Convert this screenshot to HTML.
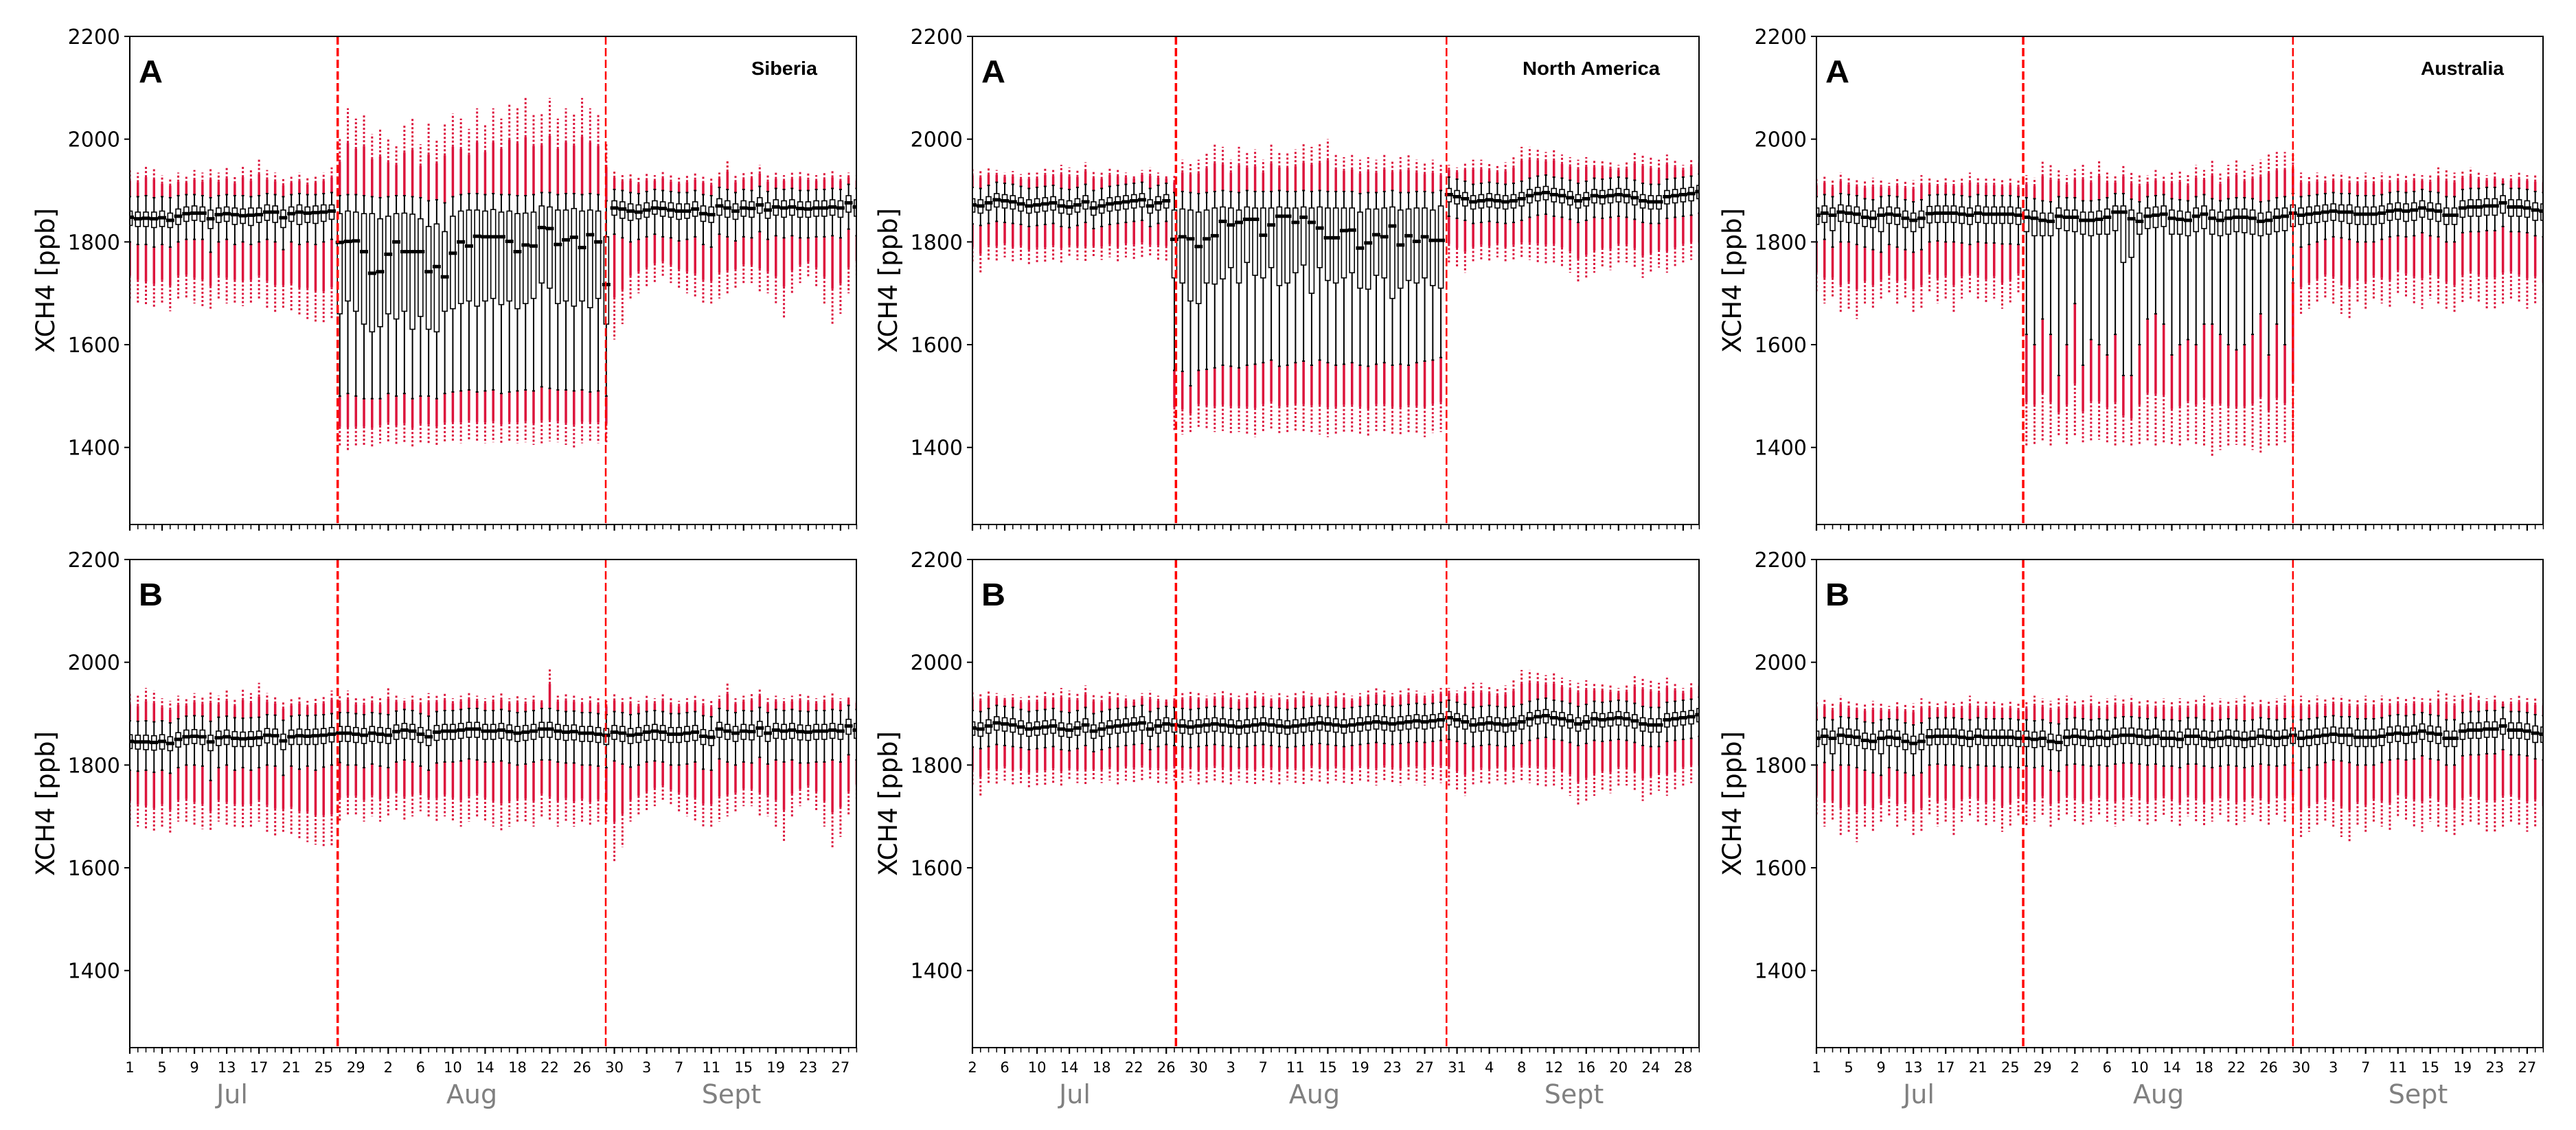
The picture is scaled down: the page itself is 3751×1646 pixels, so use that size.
<!DOCTYPE html>
<html><head><meta charset="utf-8"><style>
html,body{margin:0;padding:0;background:#fff;}
svg{display:block;}
</style></head><body>
<svg id="chart" width="3751" height="1646" viewBox="0 0 3751 1646" xmlns="http://www.w3.org/2000/svg"></svg>
<script>
// ---------- data (ppb) ----------
const yTicks=[1400,1600,1800,2000,2200];
const panelTitles=["Siberia","North America","Australia"];
const rowLetters=["A","B"];
const dashDays=[[25.74,58.93],[25.2,58.7],[25.6,59.0]];
const labelsJul1=[["1",0],["5",4],["9",8],["13",12],["17",16],["21",20],["25",24],["29",28],["2",32],["6",36],["10",40],["14",44],["18",48],["22",52],["26",56],["30",60],["3",64],["7",68],["11",72],["15",76],["19",80],["23",84],["27",88]];
const labelsJul2=[["2",0],["6",4],["10",8],["14",12],["18",16],["22",20],["26",24],["30",28],["3",32],["7",36],["11",40],["15",44],["19",48],["23",52],["27",56],["31",60],["4",64],["8",68],["12",72],["16",76],["20",80],["24",84],["28",88]];
const months=["Jul","Aug","Sept"];

// Siberia A
const p1_med=[1848,1845,1846,1845,1847,1842,1850,1855,1856,1856,1845,1853,1855,1853,1851,1852,1853,1858,1858,1847,1855,1858,1856,1857,1858,1860,
1799,1801,1802,1781,1739,1742,1776,1800,1781,1781,1781,1742,1752,1732,1778,1800,1792,1811,1810,1810,1810,1801,1781,1794,1792,1828,1826,1795,1804,1809,1789,1814,1800,1717,
1866,1864,1860,1858,1862,1866,1865,1862,1860,1860,1864,1855,1853,1870,1866,1860,1866,1865,1872,1862,1868,1866,1868,1865,1864,1866,1866,1868,1866,1876,1868];
const p1_q1=[1832,1830,1830,1828,1830,1828,1834,1840,1842,1840,1826,1838,1840,1834,1836,1832,1838,1842,1838,1828,1840,1834,1838,1836,1840,1844,
1660,1685,1665,1640,1625,1635,1660,1650,1665,1630,1655,1630,1625,1665,1670,1680,1685,1675,1685,1690,1678,1685,1670,1680,1690,1720,1710,1680,1685,1675,1685,1672,1690,1640,
1852,1846,1842,1845,1848,1854,1850,1848,1844,1846,1850,1840,1838,1852,1848,1844,1850,1848,1856,1846,1852,1848,1852,1848,1848,1850,1850,1852,1848,1858,1850];
const p1_q3=[1860,1858,1858,1858,1860,1856,1864,1868,1870,1868,1862,1866,1868,1866,1864,1866,1866,1872,1870,1862,1868,1872,1868,1870,1872,1872,
1855,1860,1858,1855,1855,1845,1850,1855,1856,1854,1845,1830,1835,1820,1850,1860,1862,1862,1860,1863,1858,1860,1855,1856,1858,1870,1868,1862,1862,1865,1860,1862,1860,1810,
1880,1878,1874,1872,1876,1880,1878,1876,1874,1874,1878,1870,1868,1884,1880,1874,1880,1878,1886,1876,1882,1880,1882,1878,1878,1880,1880,1882,1880,1890,1882];
const p1_whi=[1888,1888,1890,1886,1888,1886,1890,1892,1892,1890,1886,1890,1892,1890,1890,1888,1890,1894,1892,1888,1892,1894,1892,1892,1894,1896,
1890,1892,1892,1890,1888,1886,1888,1890,1890,1888,1886,1880,1882,1876,1888,1892,1894,1894,1892,1894,1892,1892,1890,1890,1892,1896,1896,1892,1894,1894,1892,1894,1892,1880,
1902,1900,1896,1894,1898,1902,1900,1898,1896,1896,1900,1892,1890,1906,1902,1896,1902,1900,1908,1898,1904,1902,1904,1900,1900,1902,1902,1904,1902,1912,1904];
const p1_wlo=[1800,1795,1795,1790,1795,1790,1800,1805,1805,1805,1780,1800,1805,1795,1800,1795,1800,1805,1800,1785,1800,1795,1800,1795,1800,1805,
1500,1505,1500,1495,1495,1495,1505,1500,1505,1495,1500,1500,1495,1505,1508,1510,1512,1508,1510,1512,1505,1508,1510,1512,1510,1518,1515,1512,1512,1510,1512,1508,1510,1500,
1815,1808,1800,1805,1810,1815,1810,1808,1802,1805,1810,1795,1790,1815,1810,1802,1810,1808,1820,1805,1812,1808,1812,1808,1808,1810,1810,1812,1808,1825,1812];
const p1_rhi=[1940,1935,1950,1945,1930,1925,1935,1930,1940,1935,1945,1935,1945,1930,1950,1940,1960,1940,1935,1925,1930,1935,1925,1930,1935,1945,
2000,2060,2040,2050,2010,2020,2000,1990,2030,2040,1990,2030,2000,2030,2050,2040,2020,2060,2030,2060,2040,2070,2060,2080,2050,2050,2080,2040,2060,2050,2080,2060,2050,1990,
1940,1930,1935,1925,1935,1930,1940,1930,1925,1930,1935,1930,1925,1935,1960,1930,1935,1940,1950,1930,1935,1930,1935,1940,1935,1930,1935,1940,1930,1935,1930];
const p1_rlo=[1690,1680,1675,1670,1680,1665,1690,1690,1680,1675,1670,1690,1680,1680,1675,1680,1690,1670,1660,1670,1665,1655,1650,1645,1640,1650,
1400,1395,1400,1405,1400,1408,1410,1405,1408,1400,1410,1408,1405,1410,1410,1408,1412,1410,1408,1410,1405,1410,1408,1410,1405,1408,1412,1410,1405,1400,1408,1410,1408,1410,
1610,1640,1690,1700,1710,1720,1730,1720,1710,1700,1690,1680,1680,1690,1700,1710,1720,1720,1700,1700,1680,1650,1700,1720,1730,1710,1680,1640,1660,1700,1730];

// North America A
const p2_med=[1872,1870,1876,1882,1880,1878,1874,1870,1872,1874,1876,1870,1868,1872,1878,1866,1870,1874,1876,1878,1880,1882,1870,1876,1880,
1805,1810,1806,1791,1806,1812,1840,1833,1838,1844,1844,1813,1833,1850,1850,1838,1848,1838,1827,1808,1808,1822,1823,1788,1798,1814,1810,1831,1794,1812,1801,1810,1803,1803,
1892,1888,1884,1878,1880,1882,1880,1878,1880,1884,1890,1894,1896,1892,1890,1886,1880,1884,1890,1888,1890,1892,1890,1886,1880,1878,1878,1888,1890,1892,1894,1898];
const p2_q1=[1858,1856,1862,1868,1866,1864,1860,1856,1858,1860,1862,1856,1854,1858,1864,1852,1856,1860,1862,1864,1866,1868,1856,1862,1866,
1730,1720,1685,1680,1720,1718,1728,1750,1720,1760,1735,1730,1750,1715,1720,1740,1755,1700,1750,1725,1720,1730,1740,1710,1708,1735,1730,1690,1710,1725,1720,1730,1715,1710,
1878,1874,1870,1864,1866,1868,1866,1864,1866,1870,1876,1880,1882,1878,1876,1872,1866,1870,1876,1874,1876,1878,1876,1872,1866,1864,1864,1874,1876,1878,1880,1884];
const p2_q3=[1884,1882,1888,1894,1892,1890,1886,1882,1884,1886,1888,1882,1880,1884,1890,1878,1882,1886,1888,1890,1892,1894,1882,1888,1892,
1862,1864,1862,1858,1862,1866,1868,1866,1862,1868,1866,1866,1866,1868,1866,1866,1868,1866,1868,1866,1866,1866,1866,1858,1864,1864,1866,1868,1862,1864,1866,1866,1862,1870,
1904,1900,1896,1890,1892,1894,1892,1890,1892,1896,1902,1906,1908,1904,1902,1898,1892,1896,1902,1900,1902,1904,1902,1898,1892,1890,1890,1900,1902,1904,1906,1910];
const p2_whi=[1906,1904,1910,1916,1914,1912,1908,1904,1906,1908,1910,1904,1902,1906,1912,1900,1904,1908,1910,1912,1914,1916,1904,1910,1914,
1896,1898,1896,1894,1896,1898,1900,1898,1896,1900,1898,1898,1898,1900,1898,1898,1900,1898,1900,1898,1898,1898,1898,1894,1896,1896,1898,1900,1896,1896,1898,1898,1896,1900,
1926,1922,1918,1912,1914,1916,1914,1912,1914,1918,1924,1928,1930,1926,1924,1920,1914,1918,1924,1922,1924,1926,1924,1920,1914,1912,1912,1922,1924,1926,1928,1932];
const p2_wlo=[1835,1832,1836,1840,1838,1836,1834,1830,1832,1834,1836,1830,1828,1832,1838,1826,1830,1834,1836,1838,1840,1842,1830,1836,1840,
1550,1548,1520,1550,1552,1555,1560,1558,1555,1560,1562,1565,1570,1558,1560,1565,1568,1560,1570,1565,1560,1562,1565,1560,1558,1562,1565,1560,1562,1560,1565,1568,1570,1575,
1850,1846,1842,1836,1838,1840,1838,1836,1838,1842,1848,1852,1854,1850,1848,1844,1838,1842,1848,1846,1848,1850,1848,1844,1838,1836,1836,1846,1848,1850,1852,1856];
const p2_rhi=[1945,1940,1945,1940,1935,1938,1932,1935,1935,1945,1940,1950,1945,1940,1955,1940,1935,1945,1940,1935,1930,1940,1945,1935,1930,
1930,1960,1955,1960,1975,1990,1985,1960,1985,1975,1980,1960,1990,1975,1975,1980,1990,1985,1990,2000,1970,1965,1970,1960,1965,1960,1970,1960,1965,1970,1960,1955,1960,1950,
1950,1945,1955,1960,1960,1955,1950,1955,1965,1985,1985,1980,1975,1980,1970,1965,1960,1965,1960,1960,1955,1950,1955,1975,1970,1965,1960,1970,1960,1950,1960,1970];
const p2_rlo=[1760,1740,1765,1760,1770,1760,1765,1755,1760,1760,1765,1760,1770,1765,1760,1770,1765,1770,1760,1770,1765,1770,1770,1765,1760,
1430,1425,1430,1440,1435,1430,1432,1428,1430,1425,1420,1430,1435,1428,1430,1432,1428,1430,1425,1420,1425,1430,1428,1425,1420,1432,1430,1425,1422,1430,1425,1420,1428,1430,
1760,1750,1740,1760,1765,1760,1770,1760,1765,1770,1765,1760,1755,1760,1750,1740,1720,1730,1740,1750,1745,1760,1760,1750,1730,1740,1750,1740,1750,1760,1765,1760];

// Australia A
const p3_med=[1852,1856,1852,1858,1856,1854,1848,1846,1852,1854,1852,1846,1842,1846,1855,1856,1856,1856,1854,1852,1856,1854,1854,1854,1854,1852,
1848,1846,1842,1840,1850,1848,1848,1842,1842,1844,1848,1858,1858,1845,1840,1850,1852,1854,1846,1844,1842,1850,1854,1846,1842,1846,1848,1848,1846,1840,1842,1848,1850,1856,
1852,1854,1856,1858,1860,1858,1858,1854,1854,1854,1856,1860,1862,1860,1862,1866,1862,1860,1852,1852,1866,1868,1868,1870,1870,1876,1868,1868,1866,1862,1860];
const p3_q1=[1834,1838,1822,1840,1838,1836,1830,1828,1820,1836,1834,1828,1820,1828,1837,1838,1838,1838,1836,1834,1838,1836,1836,1836,1836,1834,
1820,1812,1812,1812,1826,1822,1820,1815,1812,1815,1815,1822,1760,1770,1815,1826,1828,1830,1815,1815,1812,1820,1826,1815,1812,1815,1820,1818,1815,1812,1815,1820,1822,1830,
1834,1836,1838,1840,1842,1840,1836,1834,1834,1834,1836,1842,1844,1840,1842,1848,1844,1840,1834,1834,1848,1850,1850,1852,1852,1856,1850,1850,1848,1842,1842];
const p3_q3=[1866,1870,1866,1872,1870,1868,1862,1860,1866,1868,1866,1860,1856,1860,1869,1870,1870,1870,1868,1866,1870,1868,1868,1868,1868,1866,
1862,1860,1856,1856,1866,1862,1862,1858,1858,1860,1864,1870,1870,1862,1856,1866,1868,1870,1862,1860,1858,1866,1870,1862,1858,1862,1864,1864,1862,1856,1858,1864,1866,1872,
1866,1868,1870,1872,1874,1872,1872,1868,1868,1868,1870,1874,1876,1874,1876,1880,1876,1874,1866,1866,1880,1882,1882,1884,1884,1890,1882,1882,1880,1876,1874];
const p3_whi=[1888,1892,1888,1894,1892,1890,1884,1882,1888,1890,1888,1882,1878,1882,1891,1892,1892,1892,1890,1888,1892,1890,1890,1890,1890,1888,
1886,1884,1880,1878,1888,1886,1886,1880,1880,1882,1886,1894,1894,1883,1878,1888,1890,1892,1884,1882,1880,1888,1892,1884,1880,1884,1886,1886,1884,1878,1880,1886,1888,1894,
1888,1890,1892,1894,1896,1894,1894,1890,1890,1890,1892,1896,1898,1896,1898,1902,1898,1896,1888,1888,1902,1904,1904,1906,1906,1912,1904,1904,1902,1898,1896];
const p3_wlo=[1800,1805,1790,1800,1800,1795,1790,1785,1780,1795,1790,1785,1780,1785,1800,1802,1800,1800,1798,1795,1800,1798,1798,1796,1796,1795,
1620,1600,1650,1620,1540,1600,1680,1560,1610,1600,1580,1620,1540,1540,1600,1650,1660,1640,1580,1600,1610,1600,1640,1640,1620,1600,1590,1600,1620,1660,1580,1640,1600,1720,
1790,1795,1800,1805,1810,1808,1805,1800,1800,1800,1805,1810,1812,1810,1812,1818,1812,1810,1800,1800,1818,1820,1820,1822,1822,1830,1820,1820,1818,1812,1810];
const p3_rhi=[1925,1930,1920,1935,1925,1920,1920,1925,1920,1915,1925,1920,1920,1930,1925,1920,1925,1920,1925,1935,1925,1925,1925,1920,1925,1920,
1930,1925,1960,1950,1940,1930,1945,1950,1940,1960,1935,1930,1950,1935,1930,1930,1940,1930,1935,1940,1930,1950,1940,1960,1935,1950,1960,1940,1950,1960,1970,1975,1975,1975,
1935,1930,1935,1930,1935,1935,1930,1930,1935,1930,1935,1930,1935,1930,1935,1930,1930,1945,1940,1935,1940,1945,1935,1930,1935,1925,1930,1935,1930,1930,1930];
const p3_rlo=[1700,1680,1690,1660,1670,1650,1680,1670,1690,1700,1680,1690,1660,1670,1700,1680,1690,1660,1690,1700,1690,1680,1690,1670,1680,1700,
1400,1405,1410,1400,1420,1405,1420,1410,1410,1415,1410,1400,1410,1400,1405,1410,1400,1410,1405,1400,1410,1405,1400,1380,1395,1400,1405,1400,1395,1390,1400,1400,1410,1400,
1660,1670,1680,1690,1680,1660,1650,1680,1670,1690,1680,1670,1700,1690,1680,1670,1690,1680,1670,1660,1680,1690,1680,1670,1670,1680,1690,1680,1670,1680,1660];

// Siberia B
const p4_med=[1846,1845,1845,1844,1846,1842,1850,1855,1856,1855,1845,1853,1855,1852,1851,1852,1853,1858,1857,1847,1855,1857,1856,1857,1858,1860,
1862,1862,1860,1858,1862,1860,1858,1865,1868,1866,1860,1855,1864,1866,1866,1868,1870,1870,1866,1866,1868,1865,1862,1864,1866,1870,1870,1866,1864,1865,1862,1862,1860,1858,
1864,1862,1858,1860,1864,1866,1864,1860,1860,1862,1864,1856,1854,1870,1866,1862,1866,1865,1872,1862,1868,1866,1868,1865,1864,1866,1866,1868,1866,1876,1868];
const p4_q1=[1832,1831,1830,1829,1831,1828,1835,1840,1842,1840,1828,1838,1840,1836,1836,1836,1838,1843,1840,1830,1840,1840,1840,1840,1842,1845,
1846,1846,1844,1842,1846,1844,1842,1850,1852,1850,1844,1838,1848,1850,1850,1852,1854,1854,1850,1850,1852,1849,1846,1848,1850,1854,1854,1850,1848,1849,1846,1846,1844,1840,
1850,1846,1842,1844,1848,1850,1848,1844,1844,1846,1848,1840,1838,1854,1850,1846,1850,1849,1856,1846,1852,1850,1852,1849,1848,1850,1850,1852,1850,1860,1852];
const p4_q3=[1859,1858,1858,1857,1859,1855,1863,1868,1869,1868,1858,1866,1868,1865,1864,1865,1866,1871,1870,1860,1868,1870,1869,1870,1871,1873,
1875,1875,1873,1871,1875,1873,1871,1878,1881,1879,1873,1868,1877,1879,1879,1881,1883,1883,1879,1879,1881,1878,1875,1877,1879,1883,1883,1879,1877,1878,1875,1875,1873,1871,
1877,1875,1871,1873,1877,1879,1877,1873,1873,1875,1877,1869,1867,1883,1879,1875,1879,1878,1885,1875,1881,1879,1881,1878,1877,1879,1879,1881,1879,1889,1881];
const p4_whi=[1886,1885,1886,1884,1886,1882,1890,1895,1896,1895,1885,1893,1895,1892,1891,1892,1893,1898,1897,1887,1895,1897,1896,1897,1898,1900,
1902,1902,1900,1898,1902,1900,1898,1905,1908,1906,1900,1895,1904,1906,1906,1908,1910,1910,1906,1906,1908,1905,1902,1904,1906,1910,1910,1906,1904,1905,1902,1902,1900,1898,
1904,1902,1898,1900,1904,1906,1904,1900,1900,1902,1904,1896,1894,1910,1906,1902,1906,1905,1912,1902,1908,1906,1908,1905,1904,1906,1906,1908,1906,1916,1908];
const p4_wlo=[1790,1788,1790,1786,1790,1784,1795,1800,1800,1798,1770,1795,1800,1790,1795,1790,1795,1800,1798,1780,1798,1792,1798,1790,1796,1800,
1805,1800,1800,1795,1802,1798,1795,1806,1810,1806,1798,1790,1804,1806,1806,1808,1812,1810,1806,1806,1808,1804,1800,1802,1806,1810,1810,1806,1804,1804,1800,1800,1798,1795,
1808,1802,1796,1800,1806,1808,1806,1800,1800,1802,1806,1792,1790,1812,1806,1800,1806,1804,1815,1802,1810,1806,1810,1804,1804,1806,1806,1810,1806,1820,1810];
const p4_rhi=[1940,1935,1950,1945,1930,1925,1935,1930,1940,1935,1945,1935,1945,1930,1950,1940,1960,1940,1935,1925,1930,1935,1925,1930,1935,1945,
1935,1945,1930,1930,1935,1930,1950,1935,1930,1935,1930,1940,1935,1940,1930,1935,1940,1935,1930,1935,1940,1930,1935,1930,1935,1930,1990,1935,1940,1935,1930,1935,1930,1925,
1940,1930,1935,1925,1935,1930,1940,1930,1925,1930,1935,1930,1925,1935,1960,1930,1935,1940,1950,1930,1935,1930,1935,1940,1935,1930,1935,1940,1930,1935,1930];
const p4_rlo=[1690,1680,1675,1670,1680,1665,1690,1690,1680,1675,1670,1690,1680,1680,1675,1680,1690,1670,1660,1670,1665,1655,1650,1645,1640,1640,
1690,1700,1700,1690,1700,1690,1700,1710,1690,1700,1710,1700,1690,1700,1690,1680,1690,1700,1690,1680,1670,1680,1690,1690,1680,1700,1690,1680,1690,1680,1690,1680,1690,1690,
1610,1640,1690,1700,1710,1720,1730,1720,1710,1700,1690,1680,1680,1690,1700,1710,1720,1720,1700,1700,1680,1650,1700,1720,1730,1710,1680,1640,1660,1700,1730];

// North America B
const p5_med=[1872,1870,1876,1882,1880,1878,1874,1870,1872,1874,1876,1870,1868,1872,1878,1866,1870,1874,1876,1878,1880,1882,1870,1876,1880,
1878,1876,1874,1876,1878,1880,1878,1876,1874,1876,1878,1880,1878,1876,1874,1876,1878,1880,1882,1880,1878,1876,1878,1880,1882,1884,1882,1880,1882,1884,1886,1884,1886,1888,
1892,1888,1884,1878,1880,1882,1880,1878,1880,1884,1890,1894,1896,1892,1890,1886,1880,1884,1890,1888,1890,1892,1890,1886,1880,1878,1878,1888,1890,1892,1894,1898];
const p5_q1=[1858,1856,1862,1868,1866,1864,1860,1856,1858,1860,1862,1856,1854,1858,1864,1852,1856,1860,1862,1864,1866,1868,1856,1862,1866,
1864,1862,1860,1862,1864,1866,1864,1862,1860,1862,1864,1866,1864,1862,1860,1862,1864,1866,1868,1866,1864,1862,1864,1866,1868,1870,1868,1866,1868,1870,1872,1870,1872,1874,
1878,1874,1870,1864,1866,1868,1866,1864,1866,1870,1876,1880,1882,1878,1876,1872,1866,1870,1876,1874,1876,1878,1876,1872,1866,1864,1864,1874,1876,1878,1880,1884];
const p5_q3=[1884,1882,1888,1894,1892,1890,1886,1882,1884,1886,1888,1882,1880,1884,1890,1878,1882,1886,1888,1890,1892,1894,1882,1888,1892,
1890,1888,1886,1888,1890,1892,1890,1888,1886,1888,1890,1892,1890,1888,1886,1888,1890,1892,1894,1892,1890,1888,1890,1892,1894,1896,1894,1892,1894,1896,1898,1896,1898,1900,
1904,1900,1896,1890,1892,1894,1892,1890,1892,1896,1902,1906,1908,1904,1902,1898,1892,1896,1902,1900,1902,1904,1902,1898,1892,1890,1890,1900,1902,1904,1906,1910];
const p5_whi=[1906,1904,1910,1916,1914,1912,1908,1904,1906,1908,1910,1904,1902,1906,1912,1900,1904,1908,1910,1912,1914,1916,1904,1910,1914,
1912,1910,1908,1910,1912,1914,1912,1910,1908,1910,1912,1914,1912,1910,1908,1910,1912,1914,1916,1914,1912,1910,1912,1914,1916,1918,1916,1914,1916,1918,1920,1918,1920,1922,
1926,1922,1918,1912,1914,1916,1914,1912,1914,1918,1924,1928,1930,1926,1924,1920,1914,1918,1924,1922,1924,1926,1924,1920,1914,1912,1912,1922,1924,1926,1928,1932];
const p5_wlo=[1835,1832,1836,1840,1838,1836,1834,1830,1832,1834,1836,1830,1828,1832,1838,1826,1830,1834,1836,1838,1840,1842,1830,1836,1840,
1838,1836,1834,1836,1838,1840,1838,1836,1834,1836,1838,1840,1838,1836,1834,1836,1838,1840,1842,1840,1838,1836,1838,1840,1842,1844,1842,1840,1842,1844,1846,1844,1846,1848,
1850,1846,1842,1836,1838,1840,1838,1836,1838,1842,1848,1852,1854,1850,1848,1844,1838,1842,1848,1846,1848,1850,1848,1844,1838,1836,1836,1846,1848,1850,1852,1856];
const p5_rhi=[1945,1940,1945,1940,1935,1938,1932,1935,1935,1945,1940,1950,1945,1940,1955,1940,1935,1945,1940,1935,1930,1940,1945,1935,1930,
1935,1940,1945,1940,1935,1940,1945,1940,1935,1940,1945,1940,1935,1940,1935,1940,1945,1940,1935,1940,1945,1940,1935,1940,1945,1950,1945,1940,1945,1950,1945,1940,1945,1950,
1950,1945,1955,1960,1960,1955,1950,1955,1965,1985,1985,1980,1975,1980,1970,1965,1960,1965,1960,1960,1955,1950,1955,1975,1970,1965,1960,1970,1960,1950,1960,1970];
const p5_rlo=[1760,1740,1765,1760,1770,1760,1765,1755,1760,1760,1765,1760,1770,1765,1760,1770,1765,1770,1760,1770,1765,1770,1770,1765,1760,
1770,1765,1770,1760,1765,1770,1765,1760,1770,1765,1760,1770,1765,1760,1770,1765,1760,1770,1765,1760,1770,1765,1760,1770,1765,1760,1770,1765,1760,1770,1765,1760,1770,1765,
1760,1750,1740,1760,1765,1760,1770,1760,1765,1770,1765,1760,1755,1760,1750,1740,1720,1730,1740,1750,1745,1760,1760,1750,1730,1740,1750,1740,1750,1760,1765,1760];

// Australia B
const p6_med=[1852,1856,1852,1858,1856,1854,1848,1846,1852,1854,1852,1846,1842,1846,1855,1856,1856,1856,1854,1852,1856,1854,1854,1854,1854,1852,
1852,1850,1852,1846,1844,1854,1856,1854,1852,1854,1852,1856,1858,1858,1856,1854,1856,1852,1852,1850,1856,1856,1852,1850,1852,1854,1852,1850,1852,1856,1854,1852,1854,1858,
1852,1854,1856,1858,1860,1858,1858,1854,1854,1854,1856,1860,1862,1860,1862,1866,1862,1860,1852,1852,1866,1868,1868,1870,1870,1876,1868,1868,1866,1862,1860];
const p6_q1=[1836,1840,1822,1842,1840,1838,1832,1830,1822,1838,1836,1830,1822,1830,1839,1840,1840,1840,1838,1836,1840,1838,1838,1838,1838,1836,
1836,1834,1836,1830,1828,1838,1840,1838,1836,1838,1836,1840,1842,1842,1840,1838,1840,1836,1836,1834,1840,1840,1836,1834,1836,1838,1836,1834,1836,1840,1838,1836,1838,1842,
1836,1838,1840,1842,1844,1842,1838,1836,1836,1836,1838,1844,1846,1842,1844,1850,1846,1842,1836,1836,1850,1852,1852,1854,1854,1860,1852,1852,1850,1844,1844];
const p6_q3=[1866,1870,1866,1872,1870,1868,1862,1860,1866,1868,1866,1860,1856,1860,1869,1870,1870,1870,1868,1866,1870,1868,1868,1868,1868,1866,
1866,1864,1866,1860,1858,1868,1870,1868,1866,1868,1866,1870,1872,1872,1870,1868,1870,1866,1866,1864,1870,1870,1866,1864,1866,1868,1866,1864,1866,1870,1868,1866,1868,1872,
1866,1868,1870,1872,1874,1872,1872,1868,1868,1868,1870,1874,1876,1874,1876,1880,1876,1874,1866,1866,1880,1882,1882,1884,1884,1890,1882,1882,1880,1876,1874];
const p6_whi=[1888,1892,1888,1894,1892,1890,1884,1882,1888,1890,1888,1882,1878,1882,1891,1892,1892,1892,1890,1888,1892,1890,1890,1890,1890,1888,
1888,1886,1888,1882,1880,1890,1892,1890,1888,1890,1888,1892,1894,1894,1892,1890,1892,1888,1888,1886,1892,1892,1888,1886,1888,1890,1888,1886,1888,1892,1890,1888,1890,1894,
1888,1890,1892,1894,1896,1894,1894,1890,1890,1890,1892,1896,1898,1896,1898,1902,1898,1896,1888,1888,1902,1904,1904,1906,1906,1912,1904,1904,1902,1898,1896];
const p6_wlo=[1800,1805,1790,1800,1800,1795,1790,1785,1780,1795,1790,1785,1780,1785,1800,1802,1800,1800,1798,1795,1800,1798,1798,1796,1796,1795,
1798,1795,1798,1790,1788,1800,1802,1800,1798,1800,1798,1802,1804,1804,1802,1800,1802,1798,1798,1795,1802,1802,1798,1795,1798,1800,1798,1795,1798,1802,1800,1798,1800,1804,
1790,1795,1800,1805,1810,1808,1805,1800,1800,1800,1805,1810,1812,1810,1812,1818,1812,1810,1800,1800,1818,1820,1820,1822,1822,1830,1820,1820,1818,1812,1810];
const p6_rhi=[1925,1930,1920,1935,1925,1920,1920,1925,1920,1915,1925,1920,1920,1930,1925,1920,1925,1920,1925,1935,1925,1925,1925,1920,1925,1920,
1925,1935,1930,1925,1930,1935,1925,1930,1935,1925,1930,1935,1930,1935,1925,1930,1925,1930,1925,1930,1925,1930,1935,1925,1930,1925,1930,1935,1925,1930,1925,1930,1935,1930,
1935,1930,1935,1930,1935,1935,1930,1930,1935,1930,1935,1930,1935,1930,1935,1930,1930,1945,1940,1935,1940,1945,1935,1930,1935,1925,1930,1935,1930,1930,1930];
const p6_rlo=[1700,1680,1690,1660,1670,1650,1680,1670,1690,1700,1680,1690,1660,1670,1700,1680,1690,1660,1690,1700,1690,1680,1690,1670,1680,1700,
1680,1690,1700,1680,1690,1700,1690,1680,1690,1700,1690,1680,1690,1700,1690,1680,1690,1700,1690,1680,1700,1690,1680,1690,1700,1690,1680,1690,1700,1690,1680,1700,1690,1700,
1660,1670,1680,1690,1680,1660,1650,1680,1670,1690,1680,1670,1700,1690,1680,1670,1690,1680,1670,1660,1680,1690,1680,1670,1670,1680,1690,1680,1670,1680,1660];

// ---------- layout ----------
const NS="http://www.w3.org/2000/svg";
const svg=document.getElementById('chart');
const LEFTS=[189,1416,2645], TOPS=[53,815], PW=1058, PH=711;
const YMIN=1250, YMAX=2200, DAYPX=11.76;
const RED="#dc143c";
function mk(tag,attrs,parent){const e=document.createElementNS(NS,tag);for(const k in attrs)e.setAttribute(k,attrs[k]);(parent||svg).appendChild(e);return e;}

const panels=[
 {col:0,row:0,med:p1_med,q1:p1_q1,q3:p1_q3,whi:p1_whi,wlo:p1_wlo,rhi:p1_rhi,rlo:p1_rlo},
 {col:1,row:0,med:p2_med,q1:p2_q1,q3:p2_q3,whi:p2_whi,wlo:p2_wlo,rhi:p2_rhi,rlo:p2_rlo},
 {col:2,row:0,med:p3_med,q1:p3_q1,q3:p3_q3,whi:p3_whi,wlo:p3_wlo,rhi:p3_rhi,rlo:p3_rlo},
 {col:0,row:1,med:p4_med,q1:p4_q1,q3:p4_q3,whi:p4_whi,wlo:p4_wlo,rhi:p4_rhi,rlo:p4_rlo},
 {col:1,row:1,med:p5_med,q1:p5_q1,q3:p5_q3,whi:p5_whi,wlo:p5_wlo,rhi:p5_rhi,rlo:p5_rlo},
 {col:2,row:1,med:p6_med,q1:p6_q1,q3:p6_q3,whi:p6_whi,wlo:p6_wlo,rhi:p6_rhi,rlo:p6_rlo}
];

function redColumn(x,yStart,yEnd,parent){
  // dense near whisker, dotted further out
  const yMid=yStart+(yEnd-yStart)*0.6;
  mk('line',{x1:x,x2:x,y1:yStart,y2:yMid,stroke:RED,'stroke-width':3.5},parent);
  mk('line',{x1:x,x2:x,y1:yMid,y2:yEnd,stroke:RED,'stroke-width':3,'stroke-dasharray':'3,3'},parent);
}

panels.forEach((p,pi)=>{
  const L=LEFTS[p.col], T=TOPS[p.row], B=T+PH, R=L+PW;
  const yS=v=>B-(v-YMIN)/(YMAX-YMIN)*PH;
  const xS=i=>L+i*DAYPX;
  const g=mk('g',{});
  
  
  const cid='clip'+pi;
  const cp=mk('clipPath',{id:cid},g); mk('rect',{x:L,y:T,width:PW,height:PH},cp);
  const plot=mk('g',{'clip-path':'url(#'+cid+')'},g);
  
  
  for(let i=0;i<p.med.length;i++){
    const x=xS(i);
    const bx=mk('g',{},plot);
    
    
    redColumn(x,yS(p.whi[i]),yS(p.rhi[i]),bx);
    redColumn(x,yS(p.wlo[i]),yS(p.rlo[i]),bx);
    mk('line',{x1:x,x2:x,y1:yS(p.whi[i]),y2:yS(p.q3[i]),stroke:'#000','stroke-width':2},bx);
    mk('line',{x1:x,x2:x,y1:yS(p.q1[i]),y2:yS(p.wlo[i]),stroke:'#000','stroke-width':2},bx);
    mk('line',{x1:x-2,x2:x+2,y1:yS(p.whi[i]),y2:yS(p.whi[i]),stroke:'#000','stroke-width':2},bx);
    mk('line',{x1:x-2,x2:x+2,y1:yS(p.wlo[i]),y2:yS(p.wlo[i]),stroke:'#000','stroke-width':2},bx);
    mk('rect',{x:x-3.5,y:yS(p.q3[i]),width:7,height:Math.max(1,yS(p.q1[i])-yS(p.q3[i])),fill:'#fff',stroke:'#000','stroke-width':1.6},bx);
    mk('rect',{x:x-6,y:yS(p.med[i])-2.5,width:12,height:5,fill:'#000'},bx);
  }
  dashDays[p.col].forEach((d,k)=>{
    const ln=mk('line',{x1:xS(d),x2:xS(d),y1:T,y2:B,stroke:'#ff0000','stroke-width':k===0?3.5:2.5,'stroke-dasharray':'12,5'},g);
    
    
  });
  const fr=mk('rect',{x:L,y:T,width:PW,height:PH,fill:'none',stroke:'#000','stroke-width':2},g);
  
  
  yTicks.forEach(v=>{
    mk('line',{x1:L-8,x2:L,y1:yS(v),y2:yS(v),stroke:'#000','stroke-width':2},g);
    const t=mk('text',{x:L-14,y:yS(v)+11,'text-anchor':'end','font-family':'DejaVu Sans, sans-serif','font-size':30,fill:'#000'},g);
    t.textContent=v;
    
    
  });
  const yt=mk('text',{x:0,y:0,transform:'translate('+(L-110)+','+(T+PH/2)+') rotate(-90)','text-anchor':'middle','font-family':'DejaVu Sans, sans-serif','font-size':37,fill:'#000'},g);
  yt.textContent='XCH4 [ppb]';
  
  
  for(let i=0;i<=90;i++){
    const major=i%4===0;
    mk('line',{x1:xS(i),x2:xS(i),y1:B,y2:B+(major?9:7),stroke:'#000','stroke-width':major?2.2:1.5},g);
  }
  if(p.row===1){
    const labs=p.col===1?labelsJul2:labelsJul1;
    labs.forEach(([s,i])=>{
      const t=mk('text',{x:xS(i),y:B+36,'text-anchor':'middle','font-family':'DejaVu Sans, sans-serif','font-size':21,fill:'#000'},g);
      t.textContent=s;
      
      
    });
    [149,498,876].forEach((dx,k)=>{
      const t=mk('text',{x:L+dx,y:B+81,'text-anchor':'middle','font-family':'DejaVu Sans, sans-serif','font-size':38,fill:'#808080'},g);
      t.textContent=months[k];
      
      
    });
  }
  const lt=mk('text',{x:L+13,y:T+67,'font-family':'Liberation Sans, sans-serif','font-weight':'bold','font-size':46,fill:'#000',textLength:35,lengthAdjust:'spacingAndGlyphs'},g);
  lt.textContent=rowLetters[p.row];
  
  
  if(p.row===0){
    const names={0:96,1:200,2:121};
    const nt=mk('text',{x:R-57,y:T+56,'text-anchor':'end','font-family':'Liberation Sans, sans-serif','font-weight':'bold','font-size':28,fill:'#000',textLength:names[p.col],lengthAdjust:'spacingAndGlyphs'},g);
    nt.textContent=panelTitles[p.col];
    
    
  }
});
</script>
</body></html>
